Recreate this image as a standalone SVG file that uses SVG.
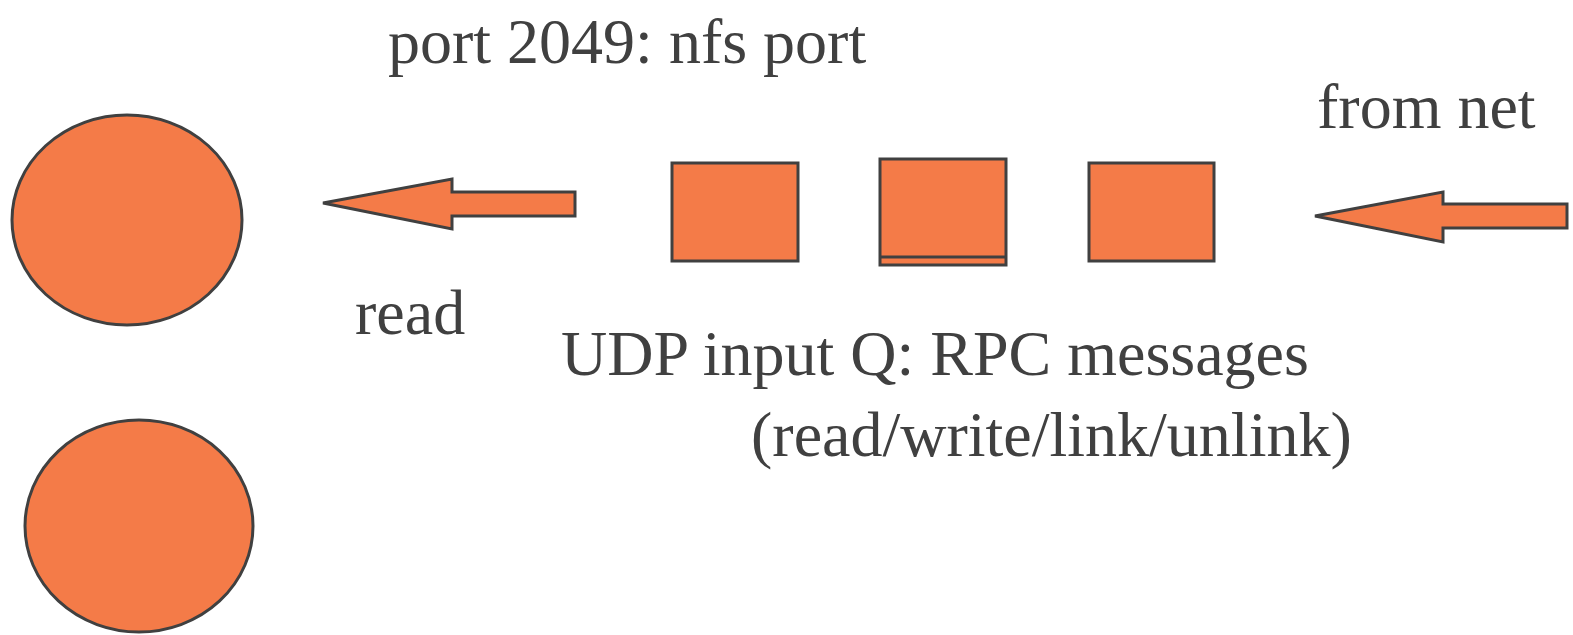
<svg xmlns="http://www.w3.org/2000/svg" width="1573" height="635" viewBox="0 0 1573 635">
<style>
.shape{fill:#F47B48;stroke:#404040;stroke-width:3}
.lbl{font-family:"Liberation Serif","Times New Roman",serif;font-size:64px;fill:#404040}
</style>
<rect width="1573" height="635" fill="#ffffff"/>
<g id="proc1"><ellipse class="shape" cx="127" cy="220" rx="115" ry="105"/></g>
<g id="proc2"><ellipse class="shape" cx="139" cy="526" rx="114" ry="106"/></g>
<g id="msg1"><rect class="shape" x="672" y="163" width="126" height="98"/></g>
<g id="msg2"><rect class="shape" x="880" y="159" width="126" height="106"/><line x1="880" y1="257" x2="1006" y2="257" stroke="#404040" stroke-width="3"/></g>
<g id="msg3"><rect class="shape" x="1089" y="163" width="125" height="98"/></g>
<g id="connectors">
<polygon class="shape" points="323,203 452,179 452,192 575,192 575,216 452,216 452,229"/>
<polygon class="shape" points="1315,216 1443,192 1443,204 1567,204 1567,228 1443,228 1443,242"/>
</g>
<g id="labels">
<text class="lbl" x="388" y="63">port 2049: nfs port</text>
<text class="lbl" x="1317" y="128">from net</text>
<text class="lbl" x="355" y="334">read</text>
<text class="lbl" x="561" y="375">UDP input Q: RPC messages</text>
<text class="lbl" x="751" y="456">(read/write/link/unlink)</text>
</g>
</svg>
